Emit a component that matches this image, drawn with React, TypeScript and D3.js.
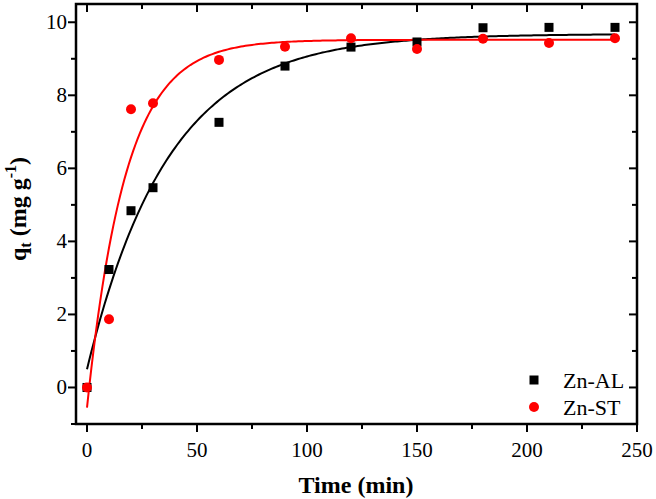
import React from "react";
import * as d3 from "d3";

const timeAL = [0, 10, 20, 30, 60, 90, 120, 150, 180, 210, 240];
const qAL = [0, 3.23, 4.84, 5.47, 7.26, 8.8, 9.32, 9.46, 9.85, 9.86, 9.86];
const timeST = [0, 10, 20, 30, 60, 90, 120, 150, 180, 210, 240];
const qST = [0, 1.87, 7.62, 7.78, 8.97, 9.33, 9.56, 9.27, 9.55, 9.43, 9.56];

// fitted kinetic model parameters: q = qe - b * exp(-k t)
const fitAL = { qe: 9.68, b: 9.18, k: 0.027 };
const fitST = { qe: 9.52, b: 10.07, k: 0.057 };

const xTicks = [0, 50, 100, 150, 200, 250];
const xMinor = [25, 75, 125, 175, 225];
const yTicks = [0, 2, 4, 6, 8, 10];
const yMinor = [-1, 1, 3, 5, 7, 9];

export default function App() {
  const W = 656, H = 499;
  const L = 76, R = 637, T = 4, B = 424;
  const x = d3.scaleLinear().domain([-5, 250]).range([L, R]);
  const y = d3.scaleLinear().domain([-1, 10.5]).range([B, T]);
  const font = "Liberation Serif";

  const curve = (p: { qe: number; b: number; k: number }) => {
    const ts = d3.range(0, 240.01, 1);
    return d3.line<number>().x((t) => x(t)).y((t) => y(p.qe - p.b * Math.exp(-p.k * t)))(ts) || "";
  };

  return (
    <svg width={W} height={H} style={{ position: "absolute", left: 0, top: 0, background: "#fff" }}>
      <path d={curve(fitAL)} fill="none" stroke="#000" strokeWidth={2} />
      <path d={curve(fitST)} fill="none" stroke="#ff0000" strokeWidth={2} />
      {timeAL.map((t, i) => (
        <rect key={"a" + i} x={x(t) - 4.5} y={y(qAL[i]) - 4.5} width={9} height={9} fill="#000" />
      ))}
      {timeST.map((t, i) => (
        <circle key={"s" + i} cx={x(t)} cy={y(qST[i])} r={5} fill="#ff0000" />
      ))}
      {/* frame */}
      <rect x={L} y={T} width={R - L} height={B - T} fill="none" stroke="#000" strokeWidth={2.5} />
      {xTicks.map((t) => (
        <g key={"xt" + t}>
          <line x1={x(t)} x2={x(t)} y1={B} y2={B + 8} stroke="#000" strokeWidth={2} />
          <line x1={x(t)} x2={x(t)} y1={T} y2={T + 8} stroke="#000" strokeWidth={2} />
          <text x={x(t)} y={457} textAnchor="middle" fontFamily={font} fontSize={21} fill="#000">{t}</text>
        </g>
      ))}
      {xMinor.map((t) => (
        <g key={"xm" + t}>
          <line x1={x(t)} x2={x(t)} y1={B} y2={B + 5} stroke="#000" strokeWidth={2} />
          <line x1={x(t)} x2={x(t)} y1={T} y2={T + 5} stroke="#000" strokeWidth={2} />
        </g>
      ))}
      {yTicks.map((v) => (
        <g key={"yt" + v}>
          <line x1={L} x2={L - 8} y1={y(v)} y2={y(v)} stroke="#000" strokeWidth={2} />
          <line x1={R} x2={R - 8} y1={y(v)} y2={y(v)} stroke="#000" strokeWidth={2} />
          <text x={L - 9} y={y(v) + 7} textAnchor="end" fontFamily={font} fontSize={21} fill="#000">{v}</text>
        </g>
      ))}
      {yMinor.map((v) => (
        <g key={"ym" + v}>
          <line x1={L} x2={L - 5} y1={y(v)} y2={y(v)} stroke="#000" strokeWidth={2} />
          <line x1={R} x2={R - 5} y1={y(v)} y2={y(v)} stroke="#000" strokeWidth={2} />
        </g>
      ))}
      {/* axis titles */}
      <text x={356} y={493} textAnchor="middle" fontFamily={font} fontSize={24} fontWeight="bold" fill="#000">Time (min)</text>
      <text transform={`translate(26, ${209}) rotate(-90)`} textAnchor="middle" fontFamily={font} fontSize={24} fontWeight="bold" fill="#000">
        <tspan>q</tspan>
        <tspan fontSize={16} dy={5}>t</tspan>
        <tspan dy={-5}> (mg g</tspan>
        <tspan fontSize={16} dy={-10}>-1</tspan>
        <tspan dy={10}>)</tspan>
      </text>
      {/* legend */}
      <rect x={534 - 4.5} y={380 - 4.5} width={9} height={9} fill="#000" />
      <text x={563} y={387.5} fontFamily={font} fontSize={22} fill="#000">Zn-AL</text>
      <circle cx={534} cy={407} r={5} fill="#ff0000" />
      <text x={563} y={415} fontFamily={font} fontSize={22} fill="#000">Zn-ST</text>
    </svg>
  );
}
